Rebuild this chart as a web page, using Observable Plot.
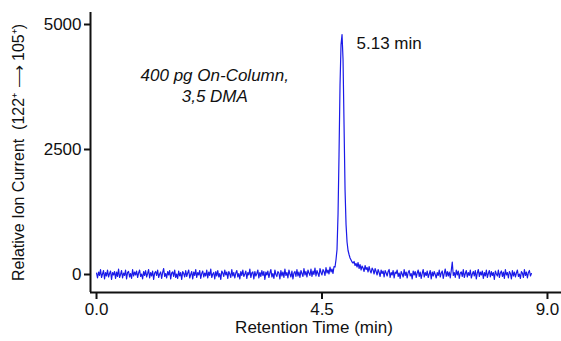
<!DOCTYPE html>
<html><head><meta charset="utf-8">
<script src="https://cdn.jsdelivr.net/npm/d3@7"></script>
<script src="https://cdn.jsdelivr.net/npm/@observablehq/plot@0.6"></script>
<style>body{margin:0;background:#fff} svg{display:block}</style>
</head><body><div id="chart"></div>
<script>
// Sampling grid of the chromatogram (minutes)
const startTime = 0;
const sampleStep = 0.02;
// Relative ion current, one value per sample (rows of 0.2 min)
const current = [
  30, -70, 50, -20, 100, -60, 10, 80, -90, 40,
  -30, 90, -50, 20, 70, -100, 40, -10, 60, -80,
  50, -40, 110, -60, 0, 80, -70, 30, -20, 90,
  -90, 40, 60, -50, 20, -80, 100, -30, 50, -10,
  70, -60, 30, 90, -40, 10, -90, 60, -20, 80,
  -50, 20, 100, -70, 40, -30, 70, -100, 30, 60,
  -20, 90, -60, 10, 50, -80, 40, 120, -40, 20,
  -70, 60, -10, 80, -90, 30, 50, -40, 90, -60,
  10, -80, 70, -30, 40, -100, 60, 20, -50, 80,
  -40, 30, 90, -70, 0, 60, -90, 50, -20, 100,
  -60, 40, -10, 80, -80, 20, 70, -50, 30, -30,
  90, -70, 50, -20, 110, -60, 10, 40, -90, 60,
  -30, 80, -50, 20, -100, 70, 30, -40, 90, -10,
  50, -80, 60, 10, -60, 100, -30, 40, -70, 30,
  80, -50, 20, -90, 60, -20, 90, -40, 10, 70,
  -80, 40, -10, 110, -60, 30, 50, -90, 60, -30,
  20, 90, -70, 40, -40, 80, -20, 60, -100, 50,
  -10, 70, -60, 30, 100, -50, 20, -80, 90, 0,
  -40, 60, 30, -90, 80, -30, 50, -60, 110, -20,
  40, -70, 90, 10, -50, 70, -90, 30, 60, -40,
  100, -30, 50, -60, 80, 20, -40, 120, -10, 60,
  -50, 90, 30, -20, 110, -40, 70, 0, 130, -30,
  80, 20, -40, 120, 40, -10, 100, 60, -20, 140,
  30, 90, 10, 150, 50, 110, 20, 160, 150, 300,
  500, 1200, 2400, 3800, 4600, 4800, 4300, 3000, 1700, 1000,
  650, 480, 400, 330, 290, 250, 230, 260, 180, 220,
  150, 240, 120, 200, 90, 170, 130, 60, 180, 100,
  140, 50, 160, 80, 30, 130, 90, 10, 120, 60,
  -10, 100, 40, -40, 90, 20, 70, -50, 80, 30,
  -30, 60, 100, -60, 40, -10, 80, -70, 50, 20,
  90, -40, 30, -80, 60, 10, -50, 100, -20, 50,
  -70, 40, 80, -30, 20, -90, 70, -10, 60, -60,
  30, 90, -40, 50, -80, 20, 100, -50, 40, -20,
  70, -60, 10, 80, -90, 50, -30, 60, 0, -70,
  40, -20, 90, -50, 30, 70, -80, 20, 110, -40,
  60, -30, 50, -70, 80, 250, -20, 40, -60, 90,
  -10, 70, -80, 30, 50, -40, 100, -60, 20, 80,
  -50, 40, -20, 90, -70, 10, 60, -30, 80, -90,
  30, 100, -40, 50, -10, 70, -80, 40, -30, 90,
  -60, 20, 80, -50, 60, -20, 40, -100, 70, 10,
  -30, 90, -60, 30, 70, -40, 50, -80, 100, -10,
  40, -70, 60, 20, -90, 80, -30, 50, -50, 30,
  90, -40, 10, -80, 60, 30, -60, 100, -20, 50,
  -70, 40, 80, -30, 20
];
const xTicks = [0, 4.5, 9];
const yTicks = [0, 2500, 5000];
const xDomain = [-0.12, 9.28];
const yDomain = [-360, 5240];
const peakLabel = "5.13 min";
const sampleLabel = "400 pg On-Column,\n3,5 DMA";
const xTitle = "Retention Time (min)";
const yTitle = "Relative Ion Current  (122\u207A \u27F6 105\u207A)";

const data = current.map((v, i) => ({t: startTime + i * sampleStep, v}));

const chart = Plot.plot({
  width: 561, height: 341,
  marginLeft: 90, marginRight: 0, marginTop: 12, marginBottom: 49,
  style: {fontFamily: "'Liberation Sans', Arial, sans-serif", fontSize: "17px", color: "#111", background: "#fff"},
  x: {domain: xDomain},
  y: {domain: yDomain},
  marks: [
    Plot.axisX({ticks: xTicks, tickFormat: d => d.toFixed(1), tickSize: 7, tickPadding: 3, fontSize: 17, strokeWidth: 2, label: null}),
    Plot.axisY({ticks: yTicks, tickFormat: d => String(d), tickSize: 6, tickPadding: 3, fontSize: 17, strokeWidth: 2, label: null}),
    Plot.ruleX([xDomain[0]], {stroke: "#111", strokeWidth: 2}),
    Plot.ruleY([yDomain[0]], {stroke: "#111", strokeWidth: 2}),
    Plot.line(data, {x: "t", y: "v", stroke: "#1a1ae8", strokeWidth: 1.2}),
    Plot.text([peakLabel], {x: 5.19, y: 4620, text: d => d, textAnchor: "start", fontSize: 17, fill: "#111"}),
    Plot.text([sampleLabel], {x: 2.36, y: 3790, text: d => d, fontSize: 17, fontStyle: "italic", lineHeight: 1.2, fill: "#111"}),
    Plot.text([xTitle], {frameAnchor: "bottom", text: d => d, dy: 40, dx: -12, fontSize: 17, fill: "#111"}),
    Plot.text([yTitle], {frameAnchor: "left", textAnchor: "middle", text: d => d, rotate: -90, dx: -72, fontSize: 16, fill: "#111"})
  ]
});
document.getElementById("chart").append(chart);
</script>
</body></html>
